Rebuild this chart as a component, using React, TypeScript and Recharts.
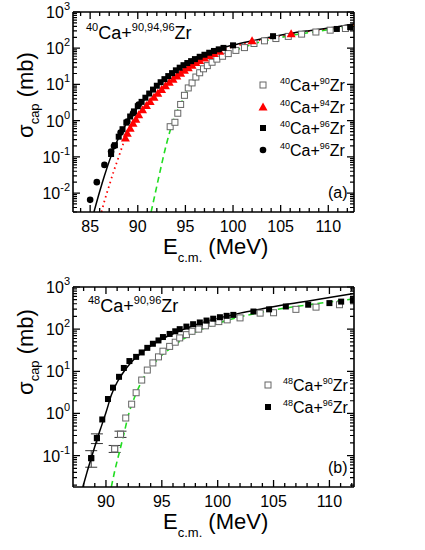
import React from "react";
import { ComposedChart, Line, Scatter, XAxis, YAxis, ErrorBar, ReferenceLine } from "recharts";

const FONT = "'Liberation Sans', Arial, Helvetica, sans-serif";

// ---------- panel (a): 40Ca + 90,94,96Zr ----------
const aCalc96E = [85.4, 86, 86.5, 87, 87.5, 88, 88.5, 89, 89.5, 90, 91, 92, 93, 94, 95, 96, 97, 98, 100, 102, 104, 106, 108, 110, 112.7];
const aCalc96S = [0.003, 0.011, 0.03, 0.075, 0.17, 0.34, 0.6, 1.0, 1.55, 2.3, 4.8, 9.5, 16, 26, 39, 54, 70, 87, 122, 160, 205, 255, 305, 360, 470];

const aCalc94E = [86.2, 86.5, 87, 87.5, 88, 88.5, 89, 89.5, 90, 90.5, 91, 92, 93, 94, 95, 96, 97, 98, 100, 102, 104, 106, 108, 110, 112.7];
const aCalc94S = [0.003, 0.006, 0.016, 0.042, 0.1, 0.24, 0.48, 0.85, 1.35, 2.0, 2.8, 5.8, 10.8, 18, 28, 42, 58, 75, 110, 150, 195, 245, 295, 350, 450];

const aCalc90E = [91.4, 91.8, 92.2, 92.6, 93, 93.5, 94, 94.5, 95, 95.5, 96, 96.5, 97, 98, 99, 100, 102, 104, 106, 108, 110, 112.7];
const aCalc90S = [0.003, 0.009, 0.027, 0.08, 0.22, 0.65, 1.5, 2.9, 5.2, 8.5, 13, 20, 27, 43, 61, 81, 128, 175, 222, 270, 325, 420];

const aExp90E = [93.4, 93.9, 94.2, 94.5, 94.9, 95.3, 95.7, 96.1, 96.5, 96.9, 97.3, 97.8, 98.3, 98.9, 99.5, 100.3, 101.2, 102.2, 103.3, 104.5, 105.8, 107.2, 108.7, 110.2, 111.8];
const aExp90S = [0.68, 0.9, 1.6, 2.8, 5.0, 8, 11, 16, 21, 27, 33, 41, 50, 60, 71, 87, 104, 135, 160, 185, 212, 245, 280, 315, 350];

const aExp94E = [88.7, 88.9, 89.2, 89.5, 89.8, 90.1, 90.5, 90.9, 91.3, 91.7, 92.1, 92.5, 92.9, 93.3, 93.7, 94.1, 94.5, 94.9, 95.3, 95.7, 96.1, 96.5, 97.0, 97.5, 98.0, 98.6, 102.0, 106.1];
const aExp94S = [0.33, 0.45, 0.62, 0.85, 1.1, 1.45, 2.0, 2.6, 3.4, 4.4, 5.7, 7.3, 9.2, 11.5, 14, 17, 20.5, 24.5, 29, 34, 40, 46, 54, 63, 72, 82, 160, 250];

const aExp96E = [87.2, 87.6, 88.0, 88.4, 88.8, 89.2, 89.6, 90.0, 90.4, 90.8, 91.2, 91.6, 92.0, 92.4, 92.8, 93.2, 93.6, 94.0, 94.4, 94.8, 95.2, 95.6, 96.0, 96.5, 97.0, 97.5, 98.0, 98.5, 99.0, 100.0, 104.2, 110.9, 112.3];
const aExp96S = [0.12, 0.21, 0.36, 0.58, 0.88, 1.3, 1.8, 2.5, 3.3, 4.3, 5.6, 7.2, 9.2, 11.5, 14, 17, 20.5, 24.5, 29, 34, 39, 44, 50, 58, 66, 75, 84, 93, 102, 120, 215, 340, 380];

const aExp96bE = [85.0, 85.7, 86.5, 87.2, 87.5, 88.2, 88.9, 89.5, 90.1];
const aExp96bS = [0.0065, 0.02, 0.06, 0.14, 0.2, 0.47, 0.95, 1.6, 2.8];

// ---------- panel (b): 48Ca + 90,96Zr ----------
const bCalc96E = [87.93, 88.3, 88.7, 89.1, 89.5, 90.0, 90.5, 91.0, 91.5, 92.0, 92.5, 93.0, 94.0, 95.0, 96.0, 97.0, 98.0, 99.0, 100.0, 102.0, 104.0, 106.0, 108.0, 110.0, 112.2];
const bCalc96S = [0.018, 0.04, 0.09, 0.2, 0.42, 1.05, 2.8, 5.5, 9, 13.5, 19, 25, 40, 58, 78, 100, 126, 152, 180, 240, 305, 380, 460, 560, 700];

const bCalc90E = [90.48, 90.8, 91.2, 91.6, 92.0, 92.5, 93.0, 93.5, 94.0, 94.5, 95.0, 95.5, 96.0, 97.0, 98.0, 99.0, 100.0, 102.0, 104.0, 106.0, 108.0, 110.0, 112.2];
const bCalc90S = [0.018, 0.045, 0.12, 0.32, 0.9, 2.2, 4.5, 8, 12.5, 17.5, 24, 31, 40, 60, 85, 110, 138, 195, 255, 315, 375, 440, 520];

const bExp96E = [88.68, 89.19, 89.67, 90.18, 90.63, 91.17, 91.6, 92.1, 92.7, 93.2, 93.7, 94.2, 94.7, 95.1, 95.7, 96.2, 96.6, 97.2, 97.8, 98.4, 99.0, 99.6, 100.2, 100.8, 101.4, 103.2, 104.6, 106.1, 108.1, 110.0, 111.05, 112.1];
const bExp96S = [0.087, 0.26, 0.72, 2.2, 4.1, 7.4, 12, 17.5, 22, 28, 36, 45, 54, 65, 77, 89, 100, 115, 131, 144, 160, 177, 192, 207, 218, 262, 295, 345, 380, 415, 450, 490];
const bErr96E = [88.68, 89.19];
const bErr96S = [0.087, 0.26];
const bErr96Lo = [0.034, 0.067];
const bErr96Hi = [0.044, 0.068];

const bExp90E = [90.78, 91.3, 91.77, 92.3, 92.7, 93.2, 93.7, 94.2, 94.7, 95.1, 95.7, 96.2, 96.6, 97.2, 97.7, 98.3, 98.9, 99.5, 100.1, 100.85, 102.0, 103.8, 105.0, 107.0, 108.8, 110.9];
const bExp90S = [0.144, 0.32, 0.78, 1.66, 3.1, 6.2, 10.7, 15.8, 22, 30, 39, 49, 62, 74, 89, 100, 120, 138, 151, 166, 185, 240, 245, 295, 333, 380];
const bErr90E = [90.78, 91.3];
const bErr90S = [0.144, 0.32];
const bErr90Lo = [0.025, 0.05];
const bErr90Hi = [0.03, 0.06];

// axis ticks
const aXTicks = [84, 85, 86, 87, 88, 89, 90, 91, 92, 93, 94, 95, 96, 97, 98, 99, 100, 101, 102, 103, 104, 105, 106, 107, 108, 109, 110, 111, 112];
const bXTicks = [88, 89, 90, 91, 92, 93, 94, 95, 96, 97, 98, 99, 100, 101, 102, 103, 104, 105, 106, 107, 108, 109, 110, 111, 112];

// plot box size (same for both panels), used to mirror ticks on top/right
const PLOT_W = 281;
const PLOT_H = 200;

const zip = (e: number[], s: number[]) => e.map((E, i) => ({ E, s: s[i] }));
const zipErr = (e: number[], s: number[], lo: number[], hi: number[]) =>
  e.map((E, i) => ({ E, s: s[i], err: [lo[i], hi[i]] }));

function logTicks(lo: number, hi: number) {
  const out: number[] = [];
  for (let p = Math.floor(Math.log10(lo)); p <= Math.ceil(Math.log10(hi)); p++) {
    for (let k = 1; k <= 9; k++) {
      const v = Number((k * Math.pow(10, p)).toPrecision(3));
      if (v >= lo * 0.999 && v <= hi * 1.001) out.push(v);
    }
  }
  return out;
}
const isDecade = (v: number) => Math.abs(Math.log10(v) - Math.round(Math.log10(v))) < 1e-6;

// bottom tick (pointing up) + mirrored tick on the top edge (pointing down)
const XTick = (p: any) => {
  const x = Number(p.x);
  const y = Number(p.y);
  const v = p.payload.value;
  const major = v % 5 === 0;
  const len = major ? 7 : 4;
  const yt = y - PLOT_H;
  const d = `M${x},${y}V${y - len}M${x},${yt}V${yt + len}`;
  return (
    <g>
      <path d={d} stroke="#000" strokeWidth={1.3} fill="none" />
      {major && (
        <text x={x} y={y + 20} textAnchor="middle" fontSize={16} fontFamily={FONT} fill="#000">
          {v}
        </text>
      )}
    </g>
  );
};

// left tick (pointing right) + mirrored tick on the right edge (pointing left)
const YTick = (p: any) => {
  const x = Number(p.x);
  const y = Number(p.y);
  const v = p.payload.value;
  const major = isDecade(v);
  const len = major ? 7 : 4;
  const xr = x + PLOT_W;
  const d = `M${x},${y}H${x + len}M${xr},${y}H${xr - len}`;
  return (
    <g>
      <path d={d} stroke="#000" strokeWidth={1.2} fill="none" />
      {major && (
        <text x={x - 3} y={y + 6} textAnchor="end" fontSize={16} fontFamily={FONT} fill="#000">
          <tspan>10</tspan>
          <tspan fontSize={11} dy={-8}>{Math.round(Math.log10(v))}</tspan>
        </text>
      )}
    </g>
  );
};

const openSq = (p: any) => (
  <rect x={p.cx - 3} y={p.cy - 3} width={6} height={6} fill="#fff" stroke="#666" strokeWidth={1} />
);
const fillSq = (p: any) => <rect x={p.cx - 3} y={p.cy - 3} width={6} height={6} fill="#000" />;
const tri = (p: any) => (
  <polygon points={`${p.cx},${p.cy - 4.5} ${p.cx + 4.5},${p.cy + 3.5} ${p.cx - 4.5},${p.cy + 3.5}`} fill="#ff0000" />
);
const dot = (p: any) => <circle cx={p.cx} cy={p.cy} r={3.3} fill="#000" />;

const axisLine = { stroke: "#000", strokeWidth: 1.6 };

function Panel({ top, xDomain, xTicks, yDomain, children }: any) {
  const yTicks = logTicks(yDomain[0], yDomain[1]);
  return (
    <div style={{ position: "absolute", left: 0, top, width: 425, height: 261 }}>
      <ComposedChart width={425} height={261} margin={{ top: 12, right: 71, bottom: 0, left: 0 }} style={{ overflow: "visible" }}>
        <XAxis xAxisId="b" dataKey="E" type="number" domain={xDomain} allowDataOverflow ticks={xTicks} interval={0}
          tick={XTick} tickSize={0} tickMargin={0} tickLine={false} axisLine={axisLine} height={49} />
        <YAxis yAxisId="l" dataKey="s" type="number" scale="log" domain={yDomain} allowDataOverflow ticks={yTicks} interval={0}
          tick={YTick} tickSize={0} tickMargin={0} tickLine={false} axisLine={axisLine} width={73} />
        {/* top and right edges of the frame */}
        <ReferenceLine xAxisId="b" yAxisId="l" y={yDomain[1]} ifOverflow="visible" stroke="#000" strokeWidth={1.6} />
        <ReferenceLine xAxisId="b" yAxisId="l" x={xDomain[1]} ifOverflow="visible" stroke="#000" strokeWidth={1.6} />
        {children}
      </ComposedChart>
    </div>
  );
}

const ids = { xAxisId: "b", yAxisId: "l" };

function Sup({ base, sup, size, supSize }: any) {
  return (
    <>
      <tspan fontSize={supSize} dy={-size * 0.42}>{sup}</tspan>
      <tspan fontSize={size} dy={size * 0.42}>{base}</tspan>
    </>
  );
}

function Reaction({ x, y, a, b, size, supSize }: any) {
  return (
    <text x={x} y={y} fontSize={size} fontFamily={FONT} fill="#000">
      <Sup sup={a} base="Ca+" size={size} supSize={supSize} />
      <Sup sup={b} base="Zr" size={size} supSize={supSize} />
    </text>
  );
}

function AxisTitles({ xy, ly }: any) {
  return (
    <>
      <text x={163} y={xy} fontSize={22} fontFamily={FONT} fill="#000">
        <tspan>E</tspan>
        <tspan fontSize={13} dy={8}>c.m.</tspan>
        <tspan dy={-8}> (MeV)</tspan>
      </text>
      <text x={33} y={ly} transform={`rotate(-90, 33, ${ly})`} textAnchor="middle" fontSize={22} fontFamily={FONT} fill="#000">
        <tspan>σ</tspan>
        <tspan fontSize={13} dy={6}>cap</tspan>
        <tspan dy={-6}> (mb)</tspan>
      </text>
    </>
  );
}

export default function App() {
  return (
    <div style={{ position: "absolute", left: 0, top: 0, width: 425, height: 550, background: "#fff" }}>
      <Panel top={0} xDomain={[83.2, 112.7]} xTicks={aXTicks} yDomain={[0.003, 1000]}>
        <Scatter {...ids} data={zip(aExp90E, aExp90S)} dataKey="s" shape={openSq} isAnimationActive={false} />
        <Scatter {...ids} data={zip(aExp94E, aExp94S)} dataKey="s" shape={tri} isAnimationActive={false} />
        <Scatter {...ids} data={zip(aExp96E, aExp96S)} dataKey="s" shape={fillSq} isAnimationActive={false} />
        <Scatter {...ids} data={zip(aExp96bE, aExp96bS)} dataKey="s" shape={dot} isAnimationActive={false} />
        <Line {...ids} data={zip(aCalc90E, aCalc90S)} dataKey="s" type="monotone" dot={false} stroke="#22dd22" strokeWidth={1.6} strokeDasharray="6 4" isAnimationActive={false} />
        <Line {...ids} data={zip(aCalc94E, aCalc94S)} dataKey="s" type="monotone" dot={false} stroke="#ff0000" strokeWidth={1.8} strokeDasharray="1.5 3.5" isAnimationActive={false} />
        <Line {...ids} data={zip(aCalc96E, aCalc96S)} dataKey="s" type="monotone" dot={false} stroke="#000" strokeWidth={1.5} isAnimationActive={false} />
      </Panel>
      <Panel top={275} xDomain={[87.05, 112.2]} xTicks={bXTicks} yDomain={[0.018, 1000]}>
        <Scatter {...ids} data={zip(bExp90E, bExp90S)} dataKey="s" shape={openSq} isAnimationActive={false} />
        <Scatter {...ids} data={zipErr(bErr90E, bErr90S, bErr90Lo, bErr90Hi)} dataKey="s" shape={openSq} isAnimationActive={false}>
          <ErrorBar dataKey="err" direction="y" width={6} stroke="#333" strokeWidth={1} />
        </Scatter>
        <Scatter {...ids} data={zip(bExp96E, bExp96S)} dataKey="s" shape={fillSq} isAnimationActive={false} />
        <Scatter {...ids} data={zipErr(bErr96E, bErr96S, bErr96Lo, bErr96Hi)} dataKey="s" shape={fillSq} isAnimationActive={false}>
          <ErrorBar dataKey="err" direction="y" width={6} stroke="#333" strokeWidth={1} />
        </Scatter>
        <Line {...ids} data={zip(bCalc90E, bCalc90S)} dataKey="s" type="monotone" dot={false} stroke="#22dd22" strokeWidth={1.6} strokeDasharray="6 4" isAnimationActive={false} />
        <Line {...ids} data={zip(bCalc96E, bCalc96S)} dataKey="s" type="monotone" dot={false} stroke="#000" strokeWidth={1.5} isAnimationActive={false} />
      </Panel>

      <svg width={425} height={550} style={{ position: "absolute", left: 0, top: 0, pointerEvents: "none" }}>
        <Reaction x={86} y={39} a="40" b="90,94,96" size={18} supSize={11} />
        <Reaction x={88} y={312} a="48" b="90,96" size={18} supSize={11} />

        {/* legend (a) */}
        <rect x={260} y={82} width={6} height={6} fill="#fff" stroke="#666" />
        <Reaction x={280} y={91} a="40" b="90" size={16} supSize={9} />
        <polygon points="263,102.5 267.5,110.5 258.5,110.5" fill="#ff0000" />
        <Reaction x={280} y={113} a="40" b="94" size={16} supSize={9} />
        <rect x={260} y={125} width={6} height={6} fill="#000" />
        <Reaction x={280} y={134} a="40" b="96" size={16} supSize={9} />
        <circle cx={263} cy={150} r={3.3} fill="#000" />
        <Reaction x={280} y={156} a="40" b="96" size={16} supSize={9} />
        <text x={328} y={198} fontSize={16} fontFamily={FONT} fill="#000">(a)</text>

        {/* legend (b) */}
        <rect x={265} y={382} width={6} height={6} fill="#fff" stroke="#666" />
        <Reaction x={283} y={391} a="48" b="90" size={16} supSize={9} />
        <rect x={265} y={404} width={6} height={6} fill="#000" />
        <Reaction x={283} y={413} a="48" b="96" size={16} supSize={9} />
        <text x={328} y={473} fontSize={16} fontFamily={FONT} fill="#000">(b)</text>

        <AxisTitles xy={254} ly={95} />
        <AxisTitles xy={529} ly={352} />
      </svg>
    </div>
  );
}
